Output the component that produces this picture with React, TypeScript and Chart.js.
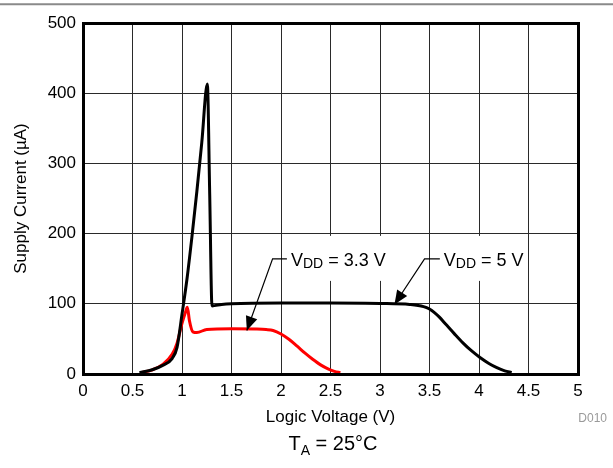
import { useEffect, useRef } from 'react';
import { Chart, registerables } from 'chart.js';

Chart.register(...registerables);

// ---- data ----
const xTickValues = [0, 0.5, 1, 1.5, 2, 2.5, 3, 3.5, 4, 4.5, 5];
const xTickLabels = ['0', '0.5', '1', '1.5', '2', '2.5', '3', '3.5', '4', '4.5', '5'];
const yTickValues = [0, 100, 200, 300, 400, 500];
const yTickLabels = ['0', '100', '200', '300', '400', '500'];

// VDD = 5 V curve: logic voltage (V) and supply current (µA)
const vdd5Volts = [0.57, 0.7, 0.8, 0.9, 0.95, 1.0, 1.05, 1.1, 1.15, 1.2, 1.256, 1.28, 1.303, 1.4, 1.5, 2.0, 2.5, 3.0, 3.3, 3.44, 3.5, 3.55, 3.6, 3.67, 3.75, 3.84, 3.92, 4.01, 4.1, 4.18, 4.26, 4.33];
const vdd5Current = [2, 6, 12, 22, 38, 85, 135, 195, 260, 330, 413, 255, 97, 99, 100, 101, 101, 100.5, 99, 96, 92.5, 87.5, 81, 70, 57.5, 44, 33.5, 23.5, 15, 9, 4.5, 2];

// VDD = 3.3 V curve
const vdd33Volts = [0.59, 0.7, 0.81, 0.9, 0.95, 1.0, 1.035, 1.054, 1.075, 1.11, 1.15, 1.25, 1.5, 1.75, 1.85, 1.92, 2.0, 2.08, 2.16, 2.24, 2.32, 2.4, 2.48, 2.54, 2.6];
const vdd33Current = [2, 6, 14, 28, 44, 72, 88, 95, 76, 60, 59, 63.5, 64.5, 64, 63.3, 62, 57, 49.5, 40, 30, 21, 13, 7, 3.8, 2];

// annotation labels: [main, subscript, rest], anchor (V, µA), elbow, arrow tip
const annoText = [
  ['V', 'DD', ' = 3.3 V'],
  ['V', 'DD', ' = 5 V'],
];
const annoAnchor = [
  [2.1, 154],
  [3.645, 154],
];
const annoElbow = [
  [1.915, 164],
  [3.45, 164],
];
const annoTip = [
  [1.655, 62],
  [3.146, 99],
];

const FONT = '"Liberation Sans", Arial, Helvetica, sans-serif';

function toPoints(xs: number[], ys: number[]) {
  return xs.map((v, i) => ({ x: v, y: ys[i] }));
}

const deco = {
  id: 'deco',
  beforeDatasetsDraw(chart: any) {
    const { ctx, scales } = chart;
    const x = scales.x;
    const y = scales.y;
    ctx.save();
    annoText.forEach((t, i) => {
      const ax = x.getPixelForValue(annoAnchor[i][0]);
      const ay = y.getPixelForValue(annoAnchor[i][1]);
      ctx.font = `18px ${FONT}`;
      let w = ctx.measureText(t[0]).width + ctx.measureText(t[2]).width;
      ctx.font = `14px ${FONT}`;
      w += ctx.measureText(t[1]).width;
      ctx.fillStyle = '#fff';
      ctx.fillRect(ax - 6, ay - 30, w + 9, 45);
    });
    ctx.restore();
  },
  afterDraw(chart: any) {
    const { ctx, scales, chartArea } = chart;
    const x = scales.x;
    const y = scales.y;
    ctx.save();

    // top grey rule
    ctx.strokeStyle = '#8a8a8a';
    ctx.lineWidth = 2;
    ctx.beginPath();
    ctx.moveTo(0, 4.3);
    ctx.lineTo(chart.width, 4.3);
    ctx.stroke();

    // frame
    ctx.strokeStyle = '#000';
    ctx.lineWidth = 3;
    ctx.strokeRect(chartArea.left + 0.5, chartArea.top + 0.5, chartArea.right - chartArea.left, chartArea.bottom - chartArea.top);

    // annotations
    annoText.forEach((t, i) => {
      const ax = x.getPixelForValue(annoAnchor[i][0]);
      const ay = y.getPixelForValue(annoAnchor[i][1]);
      const ex = x.getPixelForValue(annoElbow[i][0]);
      const ey = y.getPixelForValue(annoElbow[i][1]);
      const tx = x.getPixelForValue(annoTip[i][0]);
      const ty = y.getPixelForValue(annoTip[i][1]);

      ctx.strokeStyle = '#000';
      ctx.lineWidth = 1.2;
      ctx.beginPath();
      ctx.moveTo(ax - 4, ey);
      ctx.lineTo(ex, ey);
      ctx.lineTo(tx, ty);
      ctx.stroke();

      // arrow head
      const ang = Math.atan2(ty - ey, tx - ex);
      const L = 14;
      const H = 6;
      const bx = tx - L * Math.cos(ang);
      const by = ty - L * Math.sin(ang);
      ctx.fillStyle = '#000';
      ctx.beginPath();
      ctx.moveTo(tx, ty);
      ctx.lineTo(bx + H * Math.sin(ang), by - H * Math.cos(ang));
      ctx.lineTo(bx - H * Math.sin(ang), by + H * Math.cos(ang));
      ctx.closePath();
      ctx.fill();

      // text
      ctx.textAlign = 'left';
      ctx.textBaseline = 'alphabetic';
      let cx = ax;
      ctx.font = `18px ${FONT}`;
      ctx.fillText(t[0], cx, ay);
      cx += ctx.measureText(t[0]).width;
      ctx.font = `14px ${FONT}`;
      ctx.fillText(t[1], cx, ay + 2);
      cx += ctx.measureText(t[1]).width;
      ctx.font = `18px ${FONT}`;
      ctx.fillText(t[2], cx, ay);
    });

    // axis titles
    ctx.fillStyle = '#000';
    ctx.font = `17px ${FONT}`;
    ctx.textAlign = 'center';
    ctx.textBaseline = 'alphabetic';
    ctx.fillText('Logic Voltage (V)', (chartArea.left + chartArea.right) / 2, 422);

    ctx.save();
    ctx.translate(21.5, (chartArea.top + chartArea.bottom) / 2);
    ctx.rotate(-Math.PI / 2);
    ctx.textBaseline = 'middle';
    ctx.fillText('Supply Current (\u00B5A)', 0, 0);
    ctx.restore();

    // D010
    ctx.fillStyle = '#9a9a9a';
    ctx.font = `12px ${FONT}`;
    ctx.textAlign = 'right';
    ctx.fillText('D010', 607, 422);

    // T_A = 25°C
    ctx.fillStyle = '#000';
    ctx.textAlign = 'left';
    ctx.font = `20px ${FONT}`;
    const p1 = 'T';
    const p3 = ' = 25\u00B0C';
    const w1 = ctx.measureText(p1).width;
    const w3 = ctx.measureText(p3).width;
    ctx.font = `14px ${FONT}`;
    const p2 = 'A';
    const w2 = ctx.measureText(p2).width;
    let sx = 333 - (w1 + w2 + w3) / 2;
    ctx.font = `20px ${FONT}`;
    ctx.fillText(p1, sx, 450);
    sx += w1;
    ctx.font = `14px ${FONT}`;
    ctx.fillText(p2, sx, 455);
    sx += w2;
    ctx.font = `20px ${FONT}`;
    ctx.fillText(p3, sx, 450);

    ctx.restore();
  },
};

export default function App() {
  const ref = useRef<HTMLCanvasElement | null>(null);

  useEffect(() => {
    if (!ref.current) return;
    const chart = new Chart(ref.current, {
      type: 'line',
      data: {
        datasets: [
          {
            label: 'VDD = 5 V',
            data: toPoints(vdd5Volts, vdd5Current),
            borderColor: '#000',
            borderWidth: 3,
            pointRadius: 0,
            cubicInterpolationMode: 'monotone',
            borderJoinStyle: 'miter',
            fill: false,
          },
          {
            label: 'VDD = 3.3 V',
            data: toPoints(vdd33Volts, vdd33Current),
            borderColor: '#ff0000',
            borderWidth: 3,
            pointRadius: 0,
            cubicInterpolationMode: 'monotone',
            fill: false,
          },
        ],
      },
      options: {
        responsive: false,
        animation: false,
        devicePixelRatio: 1,
        layout: { padding: { top: 23, right: 35, left: 0, bottom: 0 } },
        plugins: {
          legend: { display: false },
          tooltip: { enabled: false },
        },
        scales: {
          x: {
            type: 'linear',
            min: 0,
            max: 5,
            afterFit: (s: any) => { s.height = 94; },
            afterBuildTicks: (s: any) => { s.ticks = xTickValues.map((v) => ({ value: v })); },
            ticks: {
              font: { family: FONT, size: 17 },
              color: '#000',
              padding: 7,
              maxRotation: 0,
              autoSkip: false,
              callback: (_v: any, i: number) => xTickLabels[i],
            },
            grid: { color: '#2a2a2a', lineWidth: 1, drawTicks: false },
            border: { display: false },
          },
          y: {
            type: 'linear',
            min: 0,
            max: 500,
            afterFit: (s: any) => { s.width = 83; },
            afterBuildTicks: (s: any) => { s.ticks = yTickValues.map((v) => ({ value: v })); },
            ticks: {
              font: { family: FONT, size: 17 },
              color: '#000',
              padding: 7,
              autoSkip: false,
              callback: (_v: any, i: number) => yTickLabels[i],
            },
            grid: { color: '#2a2a2a', lineWidth: 1, drawTicks: false },
            border: { display: false },
          },
        },
      },
      plugins: [deco],
    } as any);
    return () => chart.destroy();
  }, []);

  return (
    <div style={{ position: 'absolute', left: 0, top: 0, width: 613, height: 468, background: '#fff' }}>
      <canvas ref={ref} width={613} height={468} style={{ width: 613, height: 468, display: 'block' }} />
    </div>
  );
}
